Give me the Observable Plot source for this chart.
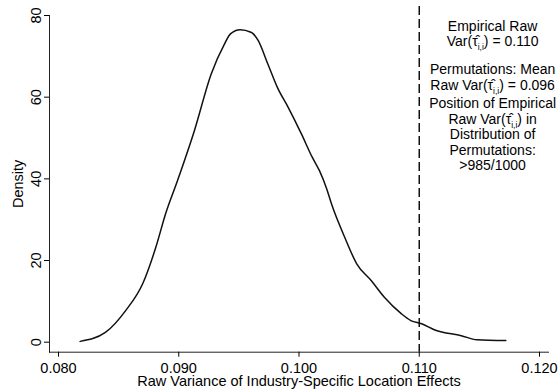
<!DOCTYPE html>
<html>
<head>
<meta charset="utf-8">
<script src="https://cdn.jsdelivr.net/npm/d3@7"></script>
<script src="https://cdn.jsdelivr.net/npm/@observablehq/plot@0.6"></script>
<style>
  body { margin: 0; background: #fff; }
</style>
</head>
<body>
<div id="chart"></div>
<script>
// Kernel density of the permuted raw variances
const densityX = [0.0818, 0.0839, 0.0856, 0.0870, 0.0881, 0.0889, 0.0899, 0.0913, 0.0927, 0.0938,
                  0.0943, 0.0951, 0.0960, 0.0962, 0.0966, 0.0974, 0.0982, 0.0991, 0.1002, 0.1011,
                  0.1017, 0.1023, 0.1027, 0.1038, 0.1048, 0.1060, 0.1071, 0.1085, 0.1093, 0.1102,
                  0.1113, 0.1135, 0.1148, 0.1172];
const densityY = [0.2, 2.4, 7.8, 14.3, 23.3, 31.4, 39.6, 51.8, 65.7, 73.0,
                  75.5, 76.5, 75.9, 75.5, 73.9, 68.2, 62.4, 57.5, 51.0, 45.3,
                  42.0, 37.6, 33.9, 25.7, 19.2, 15.1, 11.0, 7.0, 5.3, 4.5,
                  3.0, 1.6, 0.6, 0.4];

const xTicks = [0.080, 0.090, 0.100, 0.110, 0.120];
const yTicks = [0, 20, 40, 60, 80];

const empiricalVar = 0.110;
const meanPermVar = 0.096;

// Annotation blocks (placed in data coordinates), "_{...}" marks a subscript
const noteText = [
  `Empirical Raw\nVar(τ̂_{i,i}) = ${empiricalVar.toFixed(3)}`,
  `Permutations: Mean\nRaw Var(τ̂_{i,i}) = ${meanPermVar.toFixed(3)}`,
  "Position of Empirical\nRaw Var(τ̂_{i,i}) in\nDistribution of\nPermutations:\n>985/1000"
];
const noteAtX = 0.1161;
const noteAtY = [75.6, 64.9, 50.9];

const curve = densityX.map((x, i) => ({x, y: densityY[i]}));
const notes = noteText.map((text, i) => ({x: noteAtX, y: noteAtY[i], text}));

const chart = Plot.plot({
  width: 560,
  height: 390,
  marginLeft: 49,
  marginRight: 12,
  marginTop: 15,
  marginBottom: 38.3,
  style: {
    fontFamily: '"Liberation Sans", Arial, Helvetica, sans-serif',
    fontSize: "14px",
    color: "#000",
    background: "#fff"
  },
  x: {domain: [0.08, 0.12], range: [58, 539]},
  y: {domain: [0, 80], range: [341.7, 15]},
  marks: [
    Plot.frame({anchor: "left", stroke: "#222"}),
    Plot.frame({anchor: "bottom", stroke: "#222"}),
    Plot.axisX({
      ticks: xTicks,
      tickFormat: d3.format(".3f"),
      tickSize: 5,
      tickPadding: 5.5,
      fontSize: 14.5,
      label: "Raw Variance of Industry-Specific Location Effects",
      labelAnchor: "center",
      labelOffset: 34,
      labelArrow: "none"
    }),
    Plot.axisY({
      ticks: yTicks,
      tickSize: 5,
      tickRotate: -90,
      fontSize: 14.5,
      label: "Density",
      labelAnchor: "center",
      labelOffset: 37,
      labelArrow: "none"
    }),
    Plot.ruleX([empiricalVar], {stroke: "#111", strokeWidth: 1.5, strokeDasharray: "9,4", insetTop: -9}),
    Plot.line(curve, {x: "x", y: "y", stroke: "#111", strokeWidth: 1.5, curve: "monotone-x"}),
    Plot.text(notes, {x: "x", y: "y", text: "text", textAnchor: "middle", lineAnchor: "middle", lineHeight: 1.1, fontSize: 14, fill: "#000"})
  ]
});

// Turn "_{...}" into real subscript tspans
const svgNS = "http://www.w3.org/2000/svg";
chart.querySelectorAll("text, tspan").forEach((el) => {
  if (el.children.length) return;
  const m = el.textContent.match(/^(.*)_\{(.*?)\}(.*)$/);
  if (!m) return;
  el.textContent = "";
  el.append(document.createTextNode(m[1]));
  const sub = document.createElementNS(svgNS, "tspan");
  sub.setAttribute("dy", "4");
  sub.setAttribute("font-size", "8.5px");
  sub.setAttribute("fill", "#000");
  sub.textContent = m[2];
  const rest = document.createElementNS(svgNS, "tspan");
  rest.setAttribute("dy", "-4");
  rest.setAttribute("fill", "#000");
  rest.textContent = m[3];
  el.append(sub, rest);
});

document.getElementById("chart").append(chart);
</script>
</body>
</html>
